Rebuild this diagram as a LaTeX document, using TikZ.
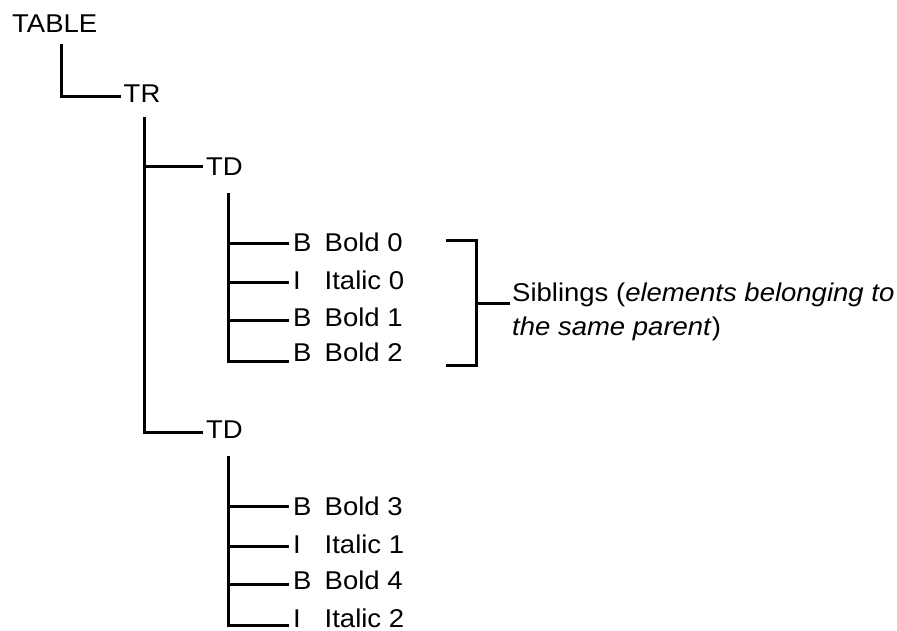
\documentclass[tikz,border=0pt]{standalone}
\usepackage{fontspec}
\setmainfont{Liberation Sans}[FakeStretch=1.07]
\usetikzlibrary{calc}
\tikzset{
  tag/.style={inner xsep=2.5pt, inner ysep=0pt, anchor=west},
  rowtag/.style={inner xsep=4pt, inner ysep=0pt, anchor=west},
  link/.style={line width=3pt},
}
\newcommand\rowlbl[2]{\makebox[31.5pt][l]{#1}#2}
\begin{document}
\begin{tikzpicture}[x=1pt,y=-1pt,font=\fontsize{25.7}{33.3}\selectfont]
\useasboundingbox (0,0) rectangle (897,631);
% nodes
\node[tag] (table) at (9.5,23.2) {TABLE};
\node[tag] (tr) at (121,93.2) {TR};
\node[tag] (tda) at (203.3,166.7) {TD};
\node[tag] (tdb) at (203.3,430) {TD};
\node[rowtag] (a1) at (289,242.5) {\rowlbl{B}{Bold 0}};
\node[rowtag] (a2) at (289,280.8) {\rowlbl{I}{Italic 0}};
\node[rowtag] (a3) at (289,317.5) {\rowlbl{B}{Bold 1}};
\node[rowtag] (a4) at (289,352.5) {\rowlbl{B}{Bold 2}};
\node[rowtag] (b1) at (289,506.3) {\rowlbl{B}{Bold 3}};
\node[rowtag] (b2) at (289,544.2) {\rowlbl{I}{Italic 1}};
\node[rowtag] (b3) at (289,580) {\rowlbl{B}{Bold 4}};
\node[rowtag] (b4) at (289,618) {\rowlbl{I}{Italic 2}};
\node[anchor=north west, inner xsep=2pt, inner ysep=0pt, align=left] (sib) at (510,283)
  {Siblings (\textit{elements belonging to}\\\textit{the same parent})};
% trunk tops
\coordinate (r0) at (61,44.3);
\coordinate (r1) at (144,116.7);
\coordinate (r2) at (228.3,193);
\coordinate (r3) at (228.3,456);
% connectors
\draw[link] (r0) |- ($(tr.west)+(0,3.5)$);
\draw[link] (r1) |- ($(tdb.west)+(0,2.3)$);
\draw[link] (r1 |- tda.west) -- (tda.west);
\draw[link] (r2) |- ($(a4.west)+(0,8.5)$);
\draw[link] ($(r2 |- a1.west)+(0,0.8)$) -- ($(a1.west)+(0,0.8)$);
\draw[link] ($(r2 |- a2.west)+(0,1.5)$) -- ($(a2.west)+(0,1.5)$);
\draw[link] ($(r2 |- a3.west)+(0,3.2)$) -- ($(a3.west)+(0,3.2)$);
\draw[link] (r3) |- ($(b4.west)+(0,7)$);
\draw[link] ($(r3 |- b1.west)+(0,-0.3)$) -- ($(b1.west)+(0,-0.3)$);
\draw[link] ($(r3 |- b2.west)+(0,2.5)$) -- ($(b2.west)+(0,2.5)$);
\draw[link] ($(r3 |- b3.west)+(0,4.3)$) -- ($(b3.west)+(0,4.3)$);
% bracket
\coordinate (bt) at (446,241);
\coordinate (bb) at (446,365.5);
\coordinate (bm) at (476,303.3);
\draw[link] (bt) -- ++(30,0) |- (bb);
\draw[link] (bm) -- (bm -| sib.west);
\end{tikzpicture}
\end{document}
